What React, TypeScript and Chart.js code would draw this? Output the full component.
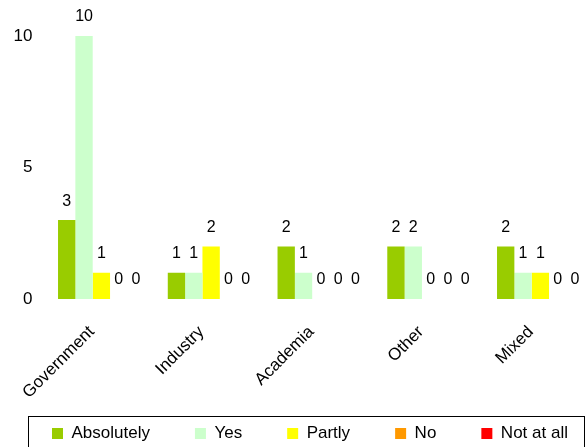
import React, { useEffect, useRef } from "react";
import { Chart, registerables } from "chart.js";

Chart.register(...registerables);

const categories = ["Government", "Industry", "Academia", "Other", "Mixed"];
const seriesNames = ["Absolutely", "Yes", "Partly", "No", "Not at all"];
const absolutely = [3, 1, 2, 2, 2];
const yes = [10, 1, 1, 2, 1];
const partly = [1, 2, 0, 0, 1];
const no = [0, 0, 0, 0, 0];
const notAtAll = [0, 0, 0, 0, 0];
const seriesColors = ["#99CC00", "#CCFFCC", "#FFFF00", "#FF9900", "#FF0000"];
const yTicks = [0, 5, 10];

const FONT = "'Liberation Sans', Arial, sans-serif";

const valueLabels = {
  id: "valueLabels",
  afterDatasetsDraw(chart: any) {
    const ctx = chart.ctx;
    ctx.save();
    ctx.font = `16px ${FONT}`;
    ctx.fillStyle = "#000";
    ctx.textAlign = "center";
    ctx.textBaseline = "middle";
    chart.data.datasets.forEach((ds: any, i: number) => {
      const meta = chart.getDatasetMeta(i);
      meta.data.forEach((el: any, j: number) => {
        ctx.fillText(String(ds.data[j]), el.x, el.y - 19);
      });
    });
    ctx.restore();
  },
};

// let the rotated category labels extend below the axis box without clipping
const unclipLabels = {
  id: "unclipLabels",
  afterLayout(chart: any) {
    const x = chart.scales.x;
    if (x) x.bottom = chart.height;
  },
};

const legendFrame = {
  id: "legendFrame",
  afterDraw(chart: any) {
    const lg = chart.legend;
    if (!lg) return;
    const ctx = chart.ctx;
    ctx.save();
    ctx.strokeStyle = "#000";
    ctx.lineWidth = 1;
    ctx.strokeRect(28.5, Math.round(lg.top + 36) + 0.5, 556, 80);
    ctx.restore();
  },
};

export default function App() {
  const ref = useRef<HTMLCanvasElement | null>(null);

  useEffect(() => {
    if (!ref.current) return;
    const seriesData = [absolutely, yes, partly, no, notAtAll];
    const chart = new Chart(ref.current, {
      type: "bar",
      data: {
        labels: categories,
        datasets: seriesNames.map((name, i) => ({
          label: name,
          data: seriesData[i],
          backgroundColor: seriesColors[i],
          borderWidth: 0,
          categoryPercentage: 0.79,
          barPercentage: 1.0,
          yAxisID: "y",
        })),
      },
      options: {
        animation: false,
        responsive: false,
        devicePixelRatio: 1,
        layout: { padding: { left: 7, top: 36, right: 0, bottom: 0 } },
        font: { family: FONT },
        color: "#000",
        plugins: {
          tooltip: { enabled: false },
          legend: {
            position: "bottom",
            align: "start",
            labels: {
              boxWidth: 11,
              boxHeight: 11,
              padding: 45,
              color: "#000",
              font: { size: 17, family: FONT },
            },
          },
        },
        scales: {
          x: {
            grid: { display: false, drawTicks: false },
            border: { display: false },
            ticks: {
              color: "#000",
              font: { size: 17, family: FONT },
              minRotation: 45,
              maxRotation: 45,
              autoSkip: false,
              padding: 23,
              labelOffset: -9.6,
            },
            afterFit: (s: any) => {
              s.height = 81;
            },
          },
          y: {
            min: 0,
            max: 10,
            grid: { display: false, drawTicks: false },
            border: { display: false },
            ticks: {
              color: "#000",
              font: { size: 17, family: FONT },
              padding: 14,
            },
            afterBuildTicks: (s: any) => {
              s.ticks = yTicks.map((v) => ({ value: v }));
            },
            afterFit: (s: any) => {
              s.width = 39.5;
            },
          },
          spacer: {
            position: "right",
            display: true,
            grid: { display: false, drawTicks: false },
            border: { display: false },
            ticks: { display: false },
            afterFit: (s: any) => {
              s.width = 24.75;
            },
          },
        },
      } as any,
      plugins: [unclipLabels, valueLabels, legendFrame],
    });
    return () => chart.destroy();
  }, []);

  return (
    <div
      style={{
        position: "fixed",
        left: 0,
        top: 0,
        width: 585,
        height: 447,
        overflow: "hidden",
        background: "#fff",
      }}
    >
      <canvas ref={ref} width={620} height={452} style={{ display: "block" }} />
    </div>
  );
}
